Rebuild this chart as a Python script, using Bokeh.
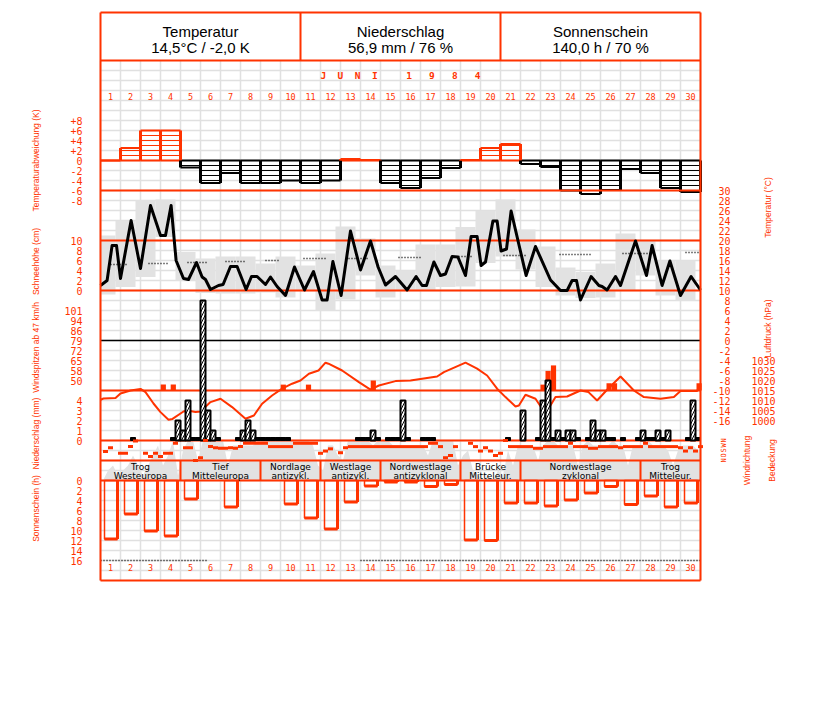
import math
from bokeh.plotting import figure
from bokeh.models import Range1d
from bokeh.core.properties import value
from bokeh.embed import file_html
from bokeh.resources import INLINE

# ---------------- data ----------------
days = list(range(1, 31))

header_titles = ["Temperatur", "Niederschlag", "Sonnenschein"]
header_values = ["14,5°C / -2,0 K", "56,9 mm / 76 %", "140,0 h / 70 %"]
month_title = "J  U  N  I     1   9   8   4"

# daily temperature deviation (K)
temp_dev = [0, 2.5, 6, 6, -1.4, -4.5, -2.5, -4.5, -4.5, -4, -4.5, -4, 0.3, 0.1, -4.5,
            -5.5, -3.5, -1.5, 0.1, 2.5, 3.3, -0.7, -1.3, -6, -6.7, -5.9, -1.7, -2.5, -5.5, -6.3]

# temperature curve (time in days since 1 June 0h, degC)
temp_time = [0.0, 0.33, 0.58, 0.8, 1.0, 1.53, 2.0, 2.5, 3.0, 3.25, 3.53, 3.78, 4.15, 4.4, 4.8,
             5.08, 5.25, 5.5, 5.9, 6.13, 6.5, 6.83, 7.28, 7.55, 7.83, 8.25, 8.5, 8.83, 9.25, 9.7,
             10.2, 10.65, 11.08, 11.33, 11.62, 12.03, 12.5, 13.0, 13.5, 13.88, 14.25, 14.75, 15.33,
             15.78, 16.08, 16.3, 16.67, 17.0, 17.25, 17.58, 17.87, 18.25, 18.53, 18.83, 19.03, 19.25,
             19.62, 19.83, 20.03, 20.3, 20.53, 21.28, 21.75, 22.5, 23.0, 23.33, 23.58, 23.8, 24.0,
             24.53, 24.92, 25.08, 25.33, 25.75, 26.0, 26.42, 26.75, 27.3, 27.58, 28.08, 28.47, 29.0,
             29.53, 30.0]
temp_c = [11, 12, 19, 19, 12.4, 24, 14.4, 27, 21, 21, 27, 16, 12.4, 12.2, 15.6, 12.7, 12.2, 10.2,
          11, 11.2, 14.8, 14.8, 10.2, 12.8, 12.8, 11.2, 12.7, 10.8, 9, 14.7, 10.1, 13.8, 8.1, 8.1,
          15.8, 9, 21.9, 14.1, 19.9, 14.7, 11.1, 12.8, 10.1, 12.8, 11, 11, 15.7, 13, 13.3, 16.8,
          16.7, 13, 20.8, 20.8, 15, 15.7, 23.9, 23.9, 17.9, 18.3, 25.9, 13, 18.8, 12.1, 10, 10, 12,
          12, 8.1, 12.8, 11, 10.8, 10.1, 12.8, 11, 16, 19.9, 13, 19, 11, 15.9, 9, 12.8, 10.1]

# daily temperature range (grey boxes)
tmax = [21, 23.9, 28.1, 28.2, 17.7, 16.4, 16.8, 16.8, 15.4, 16.8, 15, 17.4, 22.8, 20.4, 15,
        14, 19.2, 19.2, 22.7, 25.9, 28.2, 22.2, 18.8, 14.6, 13.7, 15.4, 21.4, 19.9, 16, 16]
tmin = [9.2, 10.7, 12.7, 20.7, 12, 9.5, 9.4, 9.4, 9.6, 8.6, 10, 6, 8.2, 13, 8.6,
        10, 10, 10.7, 10.8, 15.5, 16.8, 14.2, 10.7, 9, 8.5, 8.6, 10, 13, 9, 8]

# long-term mean temperature (dotted segments)
normal_from = [0.5, 2.4, 4.35, 6.25, 8.25, 10.15, 12.4, 14.9, 17.9, 20.15, 22.95, 26.1, 29.25]
normal_to = [1.4, 3.4, 5.35, 7.25, 9.0, 11.25, 13.4, 16.1, 18.6, 21.25, 24.5, 27.65, 30.0]
normal_c = [15.2, 15.4, 15.6, 15.8, 16.0, 16.4, 16.4, 16.6, 16.8, 17.0, 17.2, 17.4, 17.6]

# air pressure (hPa)
pres_time = [0.0, 0.15, 0.75, 1.0, 1.5, 2.0, 2.25, 2.65, 3.0, 3.4, 3.6, 4.15, 4.35, 4.75, 5.0,
             5.5, 6.0, 6.58, 7.25, 7.67, 8.08, 8.58, 9.08, 9.58, 10.0, 10.42, 10.9, 11.25, 11.4,
             12.08, 12.92, 13.5, 13.92, 14.75, 15.5, 16.83, 17.17, 18.25, 18.83, 19.33, 19.83,
             20.25, 20.75, 20.92, 21.25, 21.75, 22.25, 22.75, 23.33, 24.0, 24.4, 24.83, 25.33,
             26.0, 26.67, 27.17, 28.0, 28.67, 29.0, 29.83, 30.0]
pres_hpa = [1010.4, 1011, 1011.2, 1013.5, 1015, 1015.8, 1014.2, 1008.5, 1004.2, 1000.4, 1000.8,
            1004.5, 1005, 1004.2, 1004.5, 1009.2, 1010.9, 1006.7, 1000.9, 1002.5, 1008.4, 1012.5,
            1015.9, 1018.4, 1020, 1023.4, 1025, 1028.9, 1028.4, 1025, 1019.2, 1015.4, 1017.5,
            1019.7, 1020, 1022, 1024.2, 1028.9, 1025.9, 1022.5, 1015.9, 1011.7, 1007, 1007.5,
            1012.9, 1010.9, 1003.4, 1011.7, 1012, 1015, 1014.2, 1010, 1015.4, 1022, 1015, 1011.7,
            1010.9, 1011.7, 1014.7, 1014.7, 1017.5]

# wind gusts >= 47 km/h
gust_time = [3.14, 3.64, 9.14, 10.4, 13.64, 22.13, 22.38, 22.65, 25.43, 25.7, 29.93]
gust_kmh = [47, 47, 47, 47, 50, 47, 57, 61, 48, 48, 48]

# precipitation, 4 six-hour sums per day (mm); 0.1 = trace
precip_6h = [
    [0, 0, 0, 0], [0, 0, 0.1, 0], [0, 0, 0, 0], [0, 0, 0.1, 2], [1, 4, 0.1, 0.1],
    [14, 3, 1, 0.1], [0, 0, 0, 0.1], [1, 2, 1, 0.1], [0.1, 0.1, 0.1, 0.1], [0.1, 0.1, 0, 0],
    [0, 0, 0, 0], [0, 0, 0, 0], [0, 0, 0, 0.1], [0.1, 0.1, 1, 0.1], [0, 0.1, 0.1, 0.1],
    [4, 0.1, 0, 0], [0.1, 0.1, 0.1, 0], [0, 0, 0, 0], [0, 0, 0, 0], [0, 0, 0, 0],
    [0, 0.1, 0, 0], [3, 0, 0, 0.1], [4, 6, 0.1, 1], [0.1, 1, 1, 0.1], [0, 0.1, 2, 1],
    [1, 0.1, 0.1, 0], [0.1, 0, 0, 0.1], [1, 0.1, 0.1, 1], [0.1, 1, 0, 0], [0, 0.1, 4, 0.1]]

# wind direction (deg), 4 observations per day (None = calm / missing)
wind_dir_6h = [
    [160, 230, None, 130], [130, 250, 350, None], [130, 70, 130, 70], [130, 130, 310, None],
    [230, 230, 0, 50], [360, 250, 230, 220], [220, 230, 220, 250], [310, 310, 310, 310],
    [310, 250, 250, 250], [250, 250, 310, 310], [310, 310, 310, 130], [170, 210, None, 140],
    [230, 250, 250, 250], [250, 250, 250, 250], [250, 250, 250, 250], [250, 250, 250, 250],
    [250, 310, 310, 250], [50, 90, 250, None], [None, 310, 250, 170], [230, 170, 90, 130],
    [360, 250, 250, 250], [250, 250, 220, 220], [250, 250, 250, 250], [250, 310, 250, 250],
    [250, 220, 220, 250], [250, 250, 250, 230], [250, 250, 250, 250], [310, 250, 250, 250],
    [250, 250, 250, 230], [170, 230, 170, 250]]
wdir_ticks = [360, 270, 180, 90, 0]
wdir_labels = ["N", "W", "S", "O", "N"]

# cloud cover (octas), 4 per day
cloud_6h = [
    [0, 2, 3, 1], [2, 3, 5, 3], [1, 3, 5, 7], [3, 5, 8, 1], [6, 8, 8, 4],
    [8, 8, 8, 8], [8, 3, 7, 7], [7, 7, 7, 8], [8, 8, 8, 8], [8, 8, 8, 8],
    [8, 8, 7, 3], [2, 7, 7, 5], [4, 8, 8, 8], [8, 8, 7, 8], [8, 8, 7, 7],
    [7, 7, 7, 7], [7, 5, 8, 8], [8, 8, 8, 3], [5, 6, 2, 1], [0, 1, 0, 2],
    [1, 6, 3, 7], [7, 7, 7, 4], [7, 8, 8, 7], [7, 7, 7, 3], [7, 8, 7, 7],
    [7, 7, 8, 7], [7, 3, 7, 7], [7, 8, 7, 7], [7, 6, 3, 6], [7, 7, 7, 6]]

# sunshine duration (h)
sunshine_h = [11.7, 6.7, 10.1, 11.1, 3.7, 0, 5.3, 0, 0, 4.7, 7.5, 9.7, 4.3, 1.1, 0.3,
              0.3, 1.2, 0.8, 11.9, 12.0, 4.5, 4.5, 5.1, 3.9, 2.5, 1.2, 4.8, 3.1, 5.3, 4.5]
sun_line_from = [0, 13]
sun_line_to = [5.3, 30]
sun_line_h = [16, 16]

# weather types (Grosswetterlagen)
wt_first = [1, 5, 9, 12, 15, 19, 22, 28]
wt_last = [4, 8, 11, 14, 18, 21, 27, 30]
wt_line1 = ["Trog", "Tief", "Nordlage", "Westlage", "Nordwestlage", "Brücke", "Nordwestlage", "Trog"]
wt_line2 = ["Westeuropa", "Mitteleuropa", "antizykl.", "antizykl.", "antizyklonal", "Mitteleur.",
            "zyklonal", "Mitteleur."]

# axis ticks
dev_ticks = [8, 6, 4, 2, 0, -2, -4, -6, -8]
dev_labels = ["+8", "+6", "+4", "+2", "0", "-2", "-4", "-6", "-8"]
snow_ticks = [10, 8, 6, 4, 2, 0]
wind_labels = ["50", "58", "65", "72", "79", "86", "94", "101"]
prec_ticks = [4, 3, 2, 1, 0]
sun_ticks = [0, 2, 4, 6, 8, 10, 12, 14, 16]
temp_ticks = list(range(30, -17, -2))
pres_ticks = [1030, 1025, 1020, 1015, 1010, 1005, 1000]

# ---------------- style / layout ----------------
RED = "#ff3300"
GRID = "#e0e0e0"
SHADE = "#e2e2e2"
PIX = "DejaVu Sans Mono"
NARROW = "Liberation Sans"
SANS = "Liberation Sans"

W, H = 811, 600
X0 = 100         # canvas px of day 0
PXD = 20         # px per day
TOP = 0          # page y of canvas top

p = figure(width=W, height=H, output_backend="svg", toolbar_location=None,
           x_range=Range1d(-X0 / PXD, (W - X0) / PXD),
           y_range=Range1d(TOP + H, TOP),
           x_axis_location=None, y_axis_location=None,
           min_border=0, outline_line_color=None)
p.grid.visible = False
p.background_fill_color = "white"
p.border_fill_color = "white"


def panel_range(y_ref, v_ref, px_per_unit):
    return Range1d(v_ref + (y_ref - TOP - H) / px_per_unit, v_ref + (y_ref - TOP) / px_per_unit)


p.extra_y_ranges = {
    "dev": panel_range(160, 0, 5),
    "temp": panel_range(340, 0, 5),
    "snow": panel_range(290, 0, 5),
    "wind": panel_range(380, 50, 70 / 51),
    "pres": panel_range(390, 1015, 2),
    "prec": panel_range(440, 0, 10),
    "cloud": panel_range(480, 0, 5),
    "wdir": panel_range(460, 0, 1 / 18),
    "sun": panel_range(480, 0, -5),
}


def txt(xs, ys, ts, rng="default", size="10px", color=RED, align="center", baseline="middle",
        angle=0.0, font=PIX, style="normal"):
    p.text(x=xs, y=ys, text=ts, y_range_name=rng, text_font=value(font),
           text_font_size=value(size), text_color=color, text_align=align,
           text_baseline=baseline, angle=angle, text_font_style=style)


# ---- grid ----
p.segment(x0=list(range(31)), y0=[60] * 31, x1=list(range(31)), y1=[580] * 31,
          line_color=GRID, line_width=1.5)
hy = list(range(70, 580, 10))
p.segment(x0=[0] * len(hy), y0=hy, x1=[30] * len(hy), y1=hy, line_color=GRID, line_width=1.5)

# ---- cloud cover ----
c_t = [0.0]
c_v = [cloud_6h[0][0]]
for i, row in enumerate(cloud_6h):
    for j, v in enumerate(row):
        c_t.append(i + (j + 0.5) / 4)
        c_v.append(v)
c_t.append(30.0)
c_v.append(cloud_6h[-1][-1])
p.varea(x=c_t, y1=[0] * len(c_t), y2=c_v, y_range_name="cloud", fill_color=SHADE)

# ---- temperature range boxes ----
p.quad(left=[max(0, d - 1.25) for d in days], right=[d - 0.25 for d in days],
       bottom=tmin, top=tmax, y_range_name="temp", fill_color=SHADE, line_color=None)

# ---- long-term mean ----
p.segment(x0=normal_from, y0=normal_c, x1=normal_to, y1=normal_c, y_range_name="temp",
          line_color="black", line_width=1.3, line_dash="1 2")

# ---- temperature deviation ----
hx0, hy0, hx1, hy1, hc = [], [], [], [], []
ex0, ey0, ex1, ey1, ec = [], [], [], [], []
vx0, vy0, vx1, vy1, vc = [], [], [], [], []
for i, v in enumerate(temp_dev):
    col = RED if v >= 0 else "black"
    sgn = 1 if v > 0 else -1
    k = 1
    while k < abs(v):
        hx0.append(i); hx1.append(i + 1); hy0.append(sgn * k); hy1.append(sgn * k); hc.append(col)
        k += 1
    ex0 += [i, i]; ex1 += [i + 1, i + 1]; ey0 += [v, 0]; ey1 += [v, 0]; ec += [col, col]
prev = 0
for i, v in enumerate(temp_dev + [0]):
    if prev != 0:
        vx0.append(i); vx1.append(i); vy0.append(prev); vy1.append(0)
        vc.append(RED if prev > 0 else "black")
    if v != 0 and i < 30:
        vx0.append(i); vx1.append(i); vy0.append(0); vy1.append(v)
        vc.append(RED if v > 0 else "black")
    prev = v
p.segment(x0=hx0, y0=hy0, x1=hx1, y1=hy1, line_color=hc, line_width=1.2, y_range_name="dev")
p.segment(x0=ex0, y0=ey0, x1=ex1, y1=ey1, line_color=ec, line_width=2.2, y_range_name="dev")
p.segment(x0=vx0, y0=vy0, x1=vx1, y1=vy1, line_color=vc, line_width=3, y_range_name="dev")

# ---- structure lines ----
p.segment(x0=[0] * 8, y0=[60, 190, 240, 290, 390, 440, 460, 480],
          x1=[30] * 8, y1=[60, 190, 240, 290, 390, 440, 460, 480], line_color=RED, line_width=2)
p.segment(x0=[0], y0=[340], x1=[30], y1=[340], line_color="black", line_width=1.5)
p.segment(x0=[10, 20], y0=[12, 12], x1=[10, 20], y1=[60, 60], line_color=RED, line_width=2)

# ---- temperature curve ----
p.line(temp_time, temp_c, y_range_name="temp", line_color="black", line_width=3,
       line_join="round")

# ---- pressure ----
p.line(pres_time, pres_hpa, y_range_name="pres", line_color=RED, line_width=2)

# ---- gusts ----
gust_base = 50 - 51 / 7
p.quad(left=[t - 0.13 for t in gust_time], right=[t + 0.13 for t in gust_time],
       bottom=[gust_base] * len(gust_time), top=gust_kmh, y_range_name="wind",
       fill_color=RED, line_color=None)

# ---- precipitation ----
pl, pr, pt, tl, tr = [], [], [], [], []
for i, row in enumerate(precip_6h):
    for j, v in enumerate(row):
        a = i + j / 4
        if v >= 0.5:
            pl.append(a); pr.append(a + 0.25); pt.append(v)
        elif v > 0:
            tl.append(a); tr.append(a + 0.25)
p.quad(left=pl, right=pr, bottom=[0] * len(pl), top=pt, y_range_name="prec",
       fill_color="white", hatch_pattern="right_diagonal_line", hatch_color="black",
       hatch_scale=6, hatch_weight=1, line_color="black", line_width=2)
p.quad(left=tl, right=tr, bottom=[0] * len(tl), top=[0.3] * len(tl), y_range_name="prec",
       fill_color="black", line_color="black", line_width=1)

# ---- wind direction ----
wx, wy = [], []
for i, row in enumerate(wind_dir_6h):
    for j, v in enumerate(row):
        if v is not None:
            wx.append(i + (j + 1) / 4); wy.append(v)
p.rect(x=wx, y=wy, width=5, height=3, width_units="screen", height_units="screen",
       y_range_name="wdir", fill_color=RED, line_color=None)

# ---- weather types ----
sep = [f - 1 for f in wt_first[1:]]
p.segment(x0=sep, y0=[460] * len(sep), x1=sep, y1=[480] * len(sep), line_color=RED, line_width=2)
wt_mid = [(f - 1 + l) / 2 for f, l in zip(wt_first, wt_last)]
txt(wt_mid, [466] * len(wt_mid), wt_line1, size="9px", color="black", font="DejaVu Sans")
txt(wt_mid, [475] * len(wt_mid), wt_line2, size="9px", color="black", font="DejaVu Sans")

# ---- sunshine ----
sd = [d for d, s in zip(days, sunshine_h) if s > 0]
sv = [s for s in sunshine_h if s > 0]
p.quad(left=[d - 0.8 for d in sd], right=[d - 0.15 for d in sd], top=[0] * len(sd), bottom=sv,
       y_range_name="sun", fill_color=None, line_color=RED, line_width=1.5)
p.segment(x0=[d - 0.15 for d in sd], y0=[0] * len(sd), x1=[d - 0.15 for d in sd], y1=sv,
          y_range_name="sun", line_color=RED, line_width=3)
p.segment(x0=[d - 0.8 for d in sd], y0=sv, x1=[d - 0.15 for d in sd], y1=sv,
          y_range_name="sun", line_color=RED, line_width=3)
p.segment(x0=sun_line_from, y0=sun_line_h, x1=sun_line_to, y1=sun_line_h, y_range_name="sun",
          line_color="black", line_width=1.3, line_dash="1 2")

# ---- frame ----
p.segment(x0=[0, 0, 0, 30], y0=[12, 580, 12, 12], x1=[30, 30, 0, 30], y1=[12, 580, 580, 580],
          line_color=RED, line_width=2)

# ---- header ----
txt([5, 15, 25], [31] * 3, header_titles, size="15px", color="black", font=SANS)
txt([5, 15, 25], [47] * 3, header_values, size="15px", color="black", font=SANS)
txt([15], [75], [month_title.replace(" ", "\u00a0")], size="9.5px", style="bold")

# ---- day numbers ----
dmid = [d - 0.5 for d in days]
txt(dmid, [96] * 30, [str(d) for d in days], size="8.5px")
txt(dmid, [567] * 30, [str(d) for d in days], size="8.5px")

# ---- left tick labels ----
LX = -0.9
txt([LX] * len(dev_ticks), dev_ticks, dev_labels, rng="dev", align="right")
txt([LX] * len(snow_ticks), snow_ticks, [str(v) for v in snow_ticks], rng="snow", align="right")
txt([LX] * len(wind_labels), [50 + k * 51 / 7 for k in range(len(wind_labels))], wind_labels,
    rng="wind", align="right")
txt([LX] * len(prec_ticks), prec_ticks, [str(v) for v in prec_ticks], rng="prec", align="right")
txt([LX] * len(sun_ticks), sun_ticks, [str(v) for v in sun_ticks], rng="sun", align="right")

# ---- right tick labels ----
txt([31.5] * len(temp_ticks), temp_ticks, [str(v) for v in temp_ticks], rng="temp", align="right")
txt([33.75] * len(pres_ticks), pres_ticks, [str(v) for v in pres_ticks], rng="pres", align="right")
txt([31.15] * len(wdir_ticks), wdir_ticks, wdir_labels, rng="wdir", size="7px",
    angle=math.pi / 2)

# ---- axis titles ----
A = math.pi / 2
TS = "8.5px"
txt([-3.25], [160], ["Temperaturabweichung (K)"], size=TS, font=NARROW, angle=A)
txt([-3.25], [261], ["Schneehöhe (cm)"], size=TS, font=NARROW, angle=A)
txt([-3.25], [347], ["Windspitzen ab 47 km/h"], size=TS, font=NARROW, angle=A)
txt([-3.25], [433], ["Niederschlag (mm)"], size=TS, font=NARROW, angle=A)
txt([-3.25], [508], ["Sonnenschein (h)"], size=TS, font=NARROW, angle=A)
txt([33.35], [207], ["Temperatur (°C)"], size=TS, font=NARROW, angle=A)
txt([33.35], [328], ["Luftdruck (hPa)"], size=TS, font=NARROW, angle=A)
txt([32.3], [460], ["Windrichtung"], size=TS, font=NARROW, angle=A)
txt([33.55], [460], ["Bedeckung"], size=TS, font=NARROW, angle=A)

open("out.html", "w").write(file_html(p, INLINE))
